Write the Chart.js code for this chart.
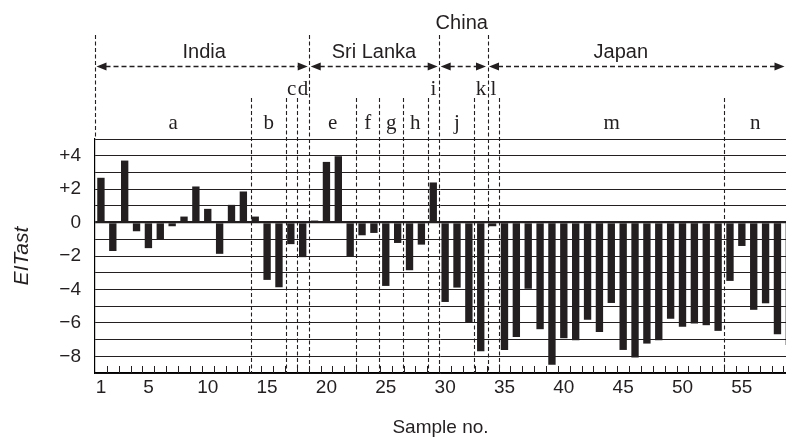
<!DOCTYPE html>
<html>
<head>
<meta charset="utf-8">
<script src="https://cdn.jsdelivr.net/npm/chart.js@4.4.1/dist/chart.umd.min.js"></script>
<style>
  html, body { margin: 0; padding: 0; background: #fff; }
  #wrap { width: 786px; height: 442px; }
</style>
</head>
<body>
<div id="wrap"><canvas id="chart" width="786" height="442"></canvas></div>
<script>
// sample numbers and EITast values
const sampleNo = [
  1, 2, 3, 4, 5, 6, 7, 8, 9, 10,
  11, 12, 13, 14, 15, 16, 17, 18, 19, 20,
  21, 22, 23, 24, 25, 26, 27, 28, 29, 30,
  31, 32, 33, 34, 35, 36, 37, 38, 39, 40,
  41, 42, 43, 44, 45, 46, 47, 48, 49, 50,
  51, 52, 53, 54, 55, 56, 57, 58, 59
];
const eitast = [
  2.66, -1.68, 3.69, -0.50, -1.51, -0.98, -0.20, 0.34, 2.14, 0.80,
  -1.85, 1.04, 1.84, 0.34, -3.41, -3.85, -1.27, -2.05, 0.10, 3.61,
  3.95, -1.99, -0.74, -0.60, -3.77, -1.20, -2.83, -1.30, 2.38, -4.73,
  -3.87, -5.98, -7.68, -0.20, -7.60, -6.82, -3.94, -6.36, -8.48, -6.90,
  -7.02, -5.80, -6.52, -4.79, -7.60, -8.06, -7.22, -7.02, -5.74, -6.22,
  -6.02, -6.12, -6.46, -3.47, -1.38, -5.20, -4.81, -6.66, -7.30
];

const xTickValues = [1, 5, 10, 15, 20, 25, 30, 35, 40, 45, 50, 55];
const yTickValues = [4, 2, 0, -2, -4, -6, -8];
const yTickLabels = ['+4', '+2', '0', '\u22122', '\u22124', '\u22126', '\u22128'];

// origin groups, in sample-number units
const countries = ['India', 'Sri Lanka', 'China', 'Japan'];
const countryEdges = [0.5, 18.55, 29.5, 33.57, 58.72];
const countryLabelAt = [9.7, 24.0, 31.4, 44.8];

const groups = ['a', 'b', 'c', 'd', 'e', 'f', 'g', 'h', 'i', 'j', 'k', 'l', 'm', 'n'];
const groupEdges = [0.5, 13.65, 16.61, 17.51, 18.55, 22.48, 24.47, 26.44, 28.52, 29.5, 32.47, 33.57, 34.55, 53.53, 58.72];
const raisedGroups = ['c', 'd', 'i', 'k', 'l'];

const INK = '#231f20';

Chart.defaults.font.family = '"Liberation Sans", Arial, sans-serif';
Chart.defaults.color = INK;

const annotations = {
  id: 'annotations',
  beforeDatasetsDraw(chart) {
    const { ctx, chartArea, scales: { x } } = chart;
    ctx.save();

    // small ticks between samples, pointing into the plot
    ctx.strokeStyle = INK;
    ctx.lineWidth = 1;
    ctx.beginPath();
    sampleNo.forEach(n => {
      const px = Math.round(x.getPixelForValue(n + 0.5)) + 0.5;
      if (px < chartArea.right) {
        ctx.moveTo(px, chartArea.bottom);
        ctx.lineTo(px, chartArea.bottom - 7);
      }
    });
    ctx.stroke();

    // dashed separators
    ctx.setLineDash([4, 2.5]);
    ctx.lineWidth = 1.1;
    groupEdges.forEach((edge, i) => {
      if (i === 0 || i === groupEdges.length - 1) return;
      const px = Math.round(x.getPixelForValue(edge)) + 0.5;
      const tall = countryEdges.includes(edge);
      ctx.beginPath();
      ctx.moveTo(px, tall ? 35 : 98);
      ctx.lineTo(px, chartArea.bottom);
      ctx.stroke();
    });
    const left = Math.round(x.getPixelForValue(countryEdges[0])) + 0.5;
    ctx.beginPath();
    ctx.moveTo(left, 35);
    ctx.lineTo(left, chartArea.top);
    ctx.stroke();
    ctx.restore();
  },
  afterDraw(chart) {
    const { ctx, scales: { x } } = chart;
    ctx.save();
    ctx.fillStyle = INK;
    ctx.strokeStyle = INK;
    const arrowY = 66.5;

    countries.forEach((name, i) => {
      const x1 = x.getPixelForValue(countryEdges[i]) + 1.5;
      const x2 = x.getPixelForValue(countryEdges[i + 1]) - 1.5;
      ctx.setLineDash([5, 3]);
      ctx.lineWidth = 1.3;
      ctx.beginPath();
      ctx.moveTo(x1 + 9, arrowY);
      ctx.lineTo(x2 - 9, arrowY);
      ctx.stroke();
      ctx.setLineDash([]);
      ctx.beginPath();
      ctx.moveTo(x1, arrowY);
      ctx.lineTo(x1 + 10, arrowY - 4);
      ctx.lineTo(x1 + 10, arrowY + 4);
      ctx.closePath();
      ctx.moveTo(x2, arrowY);
      ctx.lineTo(x2 - 10, arrowY - 4);
      ctx.lineTo(x2 - 10, arrowY + 4);
      ctx.closePath();
      ctx.fill();

      ctx.font = '20px "Liberation Sans", Arial, sans-serif';
      ctx.textAlign = 'center';
      ctx.textBaseline = 'alphabetic';
      ctx.fillText(name, x.getPixelForValue(countryLabelAt[i]), name === 'China' ? 28.5 : 57.5);
    });

    ctx.font = '21px "Liberation Serif", "Times New Roman", serif';
    ctx.textAlign = 'center';
    groups.forEach((g, i) => {
      const mid = (groupEdges[i] + groupEdges[i + 1]) / 2;
      const y = raisedGroups.includes(g) ? 94.5 : 128.5;
      ctx.fillText(g, x.getPixelForValue(mid), y);
    });
    ctx.restore();
  }
};

new Chart(document.getElementById('chart'), {
  type: 'bar',
  data: {
    datasets: [{
      data: sampleNo.map((n, i) => ({ x: n, y: eitast[i] })),
      backgroundColor: INK,
      borderWidth: 0,
      barThickness: 6.7
    }]
  },
  options: {
    responsive: false,
    animation: false,
    devicePixelRatio: 1,
    layout: { padding: { top: 139, left: 0, right: 0, bottom: 0 } },
    plugins: {
      legend: { display: false },
      tooltip: { enabled: false }
    },
    scales: {
      x: {
        type: 'linear',
        offset: false,
        min: 0.5,
        max: 58.72,
        afterBuildTicks: scale => { scale.ticks = xTickValues.map(v => ({ value: v })); },
        afterFit: scale => { scale.height = 69; },
        grid: { display: false, drawTicks: false, offset: false },
        border: { display: true, color: '#000', width: 1.5 },
        ticks: {
          autoSkip: false,
          maxRotation: 0,
          padding: 3,
          font: { size: 19 },
          callback: v => String(v)
        },
        title: {
          display: true,
          text: 'Sample no.',
          font: { size: 19 },
          padding: { top: 4, bottom: 3 }
        }
      },
      y: {
        min: -9,
        max: 5,
        afterFit: scale => { scale.width = 95; },
        grid: {
          drawTicks: false,
          color: INK,
          lineWidth: c => (c.tick && c.tick.value === 0 ? 2.2 : 1)
        },
        border: { display: true, color: '#000', width: 1.2 },
        ticks: {
          stepSize: 1,
          autoSkip: false,
          padding: 14,
          font: { size: 19 },
          callback: v => {
            const i = yTickValues.indexOf(v);
            return i >= 0 ? yTickLabels[i] : '';
          }
        },
        title: {
          display: true,
          text: 'EITast',
          font: { size: 21, style: 'italic' },
          padding: { top: 10, bottom: 0 }
        }
      }
    }
  },
  plugins: [annotations]
});
</script>
</body>
</html>
